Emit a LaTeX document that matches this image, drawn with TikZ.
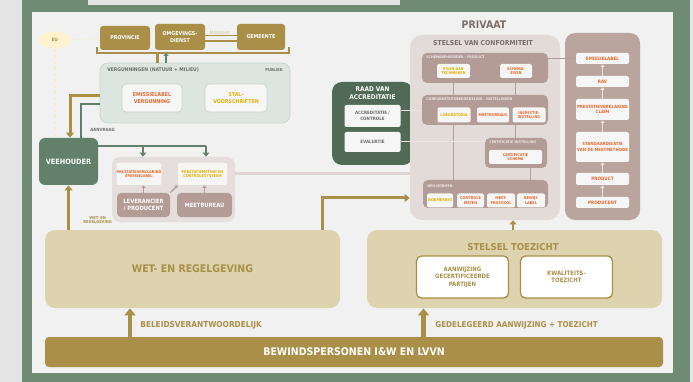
\documentclass[tikz,border=0pt]{standalone}
\usepackage{fontspec}
\setmainfont{DejaVu Sans Condensed}
\usetikzlibrary{arrows.meta}
\usetikzlibrary{shapes.geometric}
\definecolor{pagegray}{RGB}{228,228,228}
\definecolor{framegreen}{RGB}{110,139,116}
\definecolor{panelgray}{RGB}{241,241,241}
\definecolor{paper}{RGB}{246,246,246}
\definecolor{gold}{RGB}{169,143,72}
\definecolor{beige}{RGB}{221,211,174}
\definecolor{eucream}{RGB}{255,243,207}
\definecolor{vergfill}{RGB}{220,229,223}
\definecolor{vergline}{RGB}{200,213,204}
\definecolor{vgreen}{RGB}{98,128,106}
\definecolor{dgreen}{RGB}{80,106,86}
\definecolor{lmauve}{RGB}{230,222,220}
\definecolor{cmauve}{RGB}{227,219,216}
\definecolor{mauve}{RGB}{179,156,150}
\definecolor{rmauve}{RGB}{185,164,158}
\definecolor{orangetxt}{RGB}{229,103,46}
\definecolor{yellowtxt}{RGB}{226,178,10}
\definecolor{greytxt}{RGB}{110,110,110}
\definecolor{browntxt}{RGB}{125,110,106}
\definecolor{paleline}{RGB}{236,229,227}
\tikzset{every picture/.style={line width=0.75pt}}
\tikzset{
  tinyt/.style={font=\bfseries\fontsize{3}{3.6}\selectfont},
  smallt/.style={font=\bfseries\fontsize{3.8}{4.6}\selectfont},
  box/.style={rectangle, inner sep=0pt, align=center, smallt},
  goldbox/.style={box, fill=gold, text=white, rounded corners=3pt, font=\bfseries\fontsize{5.3}{6.3}\selectfont},
  panel/.style={rectangle, inner sep=0pt, rounded corners=#1},
  panel/.default=8pt,
  wbox/.style={box, fill=paper, rounded corners=2pt},
  gwbox/.style={box, fill=paper, draw=vergline, rounded corners=4pt, font=\bfseries\fontsize{5.3}{6.5}\selectfont},
  mbox/.style={box, fill=mauve, text=white, rounded corners=4pt, font=\bfseries\fontsize{5.8}{7}\selectfont},
  hdr/.style={inner sep=0pt, anchor=west, text=paleline, font=\bfseries\fontsize{3.6}{4}\selectfont},
  lbl/.style={inner sep=0pt, align=center},
  goldline/.style={draw=gold, line width=3pt},
  goldarrow/.style={goldline, -{Triangle[width=8pt,length=5pt]}},
  greenline/.style={draw=vgreen, line width=2.5pt},
  greenarrow/.style={greenline, -{Triangle[width=6.5pt,length=4pt]}},
  mline/.style={draw=mauve, line width=1pt},
  pline/.style={draw=paleline, line width=1pt},
  marrow/.style={draw=mauve, line width=1.2pt, -{Triangle[width=4pt,length=2.5pt]}},
  rarrow/.style={draw=paleline, line width=1.2pt, -{Triangle[width=4pt,length=2.5pt]}},
  uparrow/.style={draw=gold, line width=4.5pt, -{Triangle[width=11pt,length=7pt]}}
}
\begin{document}
\begin{tikzpicture}[x=1pt,y=1pt,yscale=-1]
%Shape: Background and frame
\fill[pagegray] (0,0) rectangle (693,382);
\fill[framegreen] (22,0) rectangle (690,382);
\fill[pagegray] (88,0) rectangle (400,5);
\fill[panelgray] (32,12) rectangle (673,373);
\useasboundingbox (0,0) rectangle (693,382);

%Shape: Ellipse
\node[ellipse, fill=eucream, minimum width=32, minimum height=17, inner sep=0pt, text=gold, font=\bfseries\fontsize{4.5}{5}\selectfont] (eu) at (55,40) {EU};

%Shape: Gold boxes (public bodies)
\node[goldbox, minimum width=50, minimum height=24] (prov) at (125,38) {PROVINCIE};
\node[goldbox, minimum width=50, minimum height=26] (odienst) at (180,37) {OMGEVINGS-\\DIENST};
\node[goldbox, minimum width=48, minimum height=26] (gem) at (261,37) {GEMEENTE};
% Text Node
\node[lbl, text=beige, font=\bfseries\fontsize{4}{4.5}\selectfont] (mandaat) at (220,33) {MANDAAT};
%Straight Lines
\draw[gold, line width=1.6pt] ([yshift=-1.5pt]odienst.east) -- ([yshift=-1.5pt]gem.west);
\draw[gold, line width=1.6pt] ([yshift=4pt]odienst.east) -- ([yshift=4pt]gem.west);
%Dashed Lines
\draw[eucream!80!gold!60, line width=1.2pt, dashed] (eu.east) -- (prov.west);

%Shape: Bracket
\coordinate (bl) at (97,47);
\coordinate (br) at (289,47);
\coordinate (bmid) at (193,53);
\draw[gold, line width=1.3pt] (bl) |- (bmid) -| (br);

%Shape: Vergunningen
\node[panel, fill=vergfill, draw=vergline, minimum width=190, minimum height=60] (verg) at (195,93) {};
\node[inner sep=0pt, anchor=west, text=greytxt, font=\bfseries\fontsize{5}{5.5}\selectfont] (vergtitle) at (107,70) {VERGUNNINGEN (NATUUR + MILIEU)};
\node[inner sep=0pt, anchor=east, text=greytxt, font=\bfseries\fontsize{4}{5}\selectfont] (publiek) at (283,70) {PUBLIEK};
\node[gwbox, text=orangetxt, minimum width=60, minimum height=28] (elabel) at (152,98) {EMISSIELABEL\\VERGUNNING};
\node[gwbox, text=yellowtxt, minimum width=62, minimum height=28] (stal) at (236,98) {STAL-\\VOORSCHRIFTEN};

\coordinate (vg) at (157,53);
\coordinate (vgr) at (166,53);
\draw[goldline] (vg) -- (vg |- verg.north);
\draw[draw=vgreen, line width=2pt, -{Triangle[width=5pt,length=3pt]}] (vgr |- verg.north) -- (vgr);

%Shape: Veehouder
\node[panel=6pt, fill=vgreen, text=white, minimum width=59, minimum height=47, font=\bfseries\fontsize{7.3}{8.5}\selectfont] (veeh) at (68.5,161.5) {VEEHOUDER};
\draw[eucream!80!gold!60, line width=1.2pt, dashed] (eu.south) -- (eu.south |- veeh.north);

\coordinate (gv) at (70,96);
\draw[goldarrow] (gv -| verg.west) -- (gv) -- (gv |- veeh.north);
\coordinate (gg) at (81,104);
\draw[greenline] (gg |- veeh.north) -- (gg) -- (gg -| verg.west);
% Text Node
\node[inner sep=0pt, anchor=west, text=greytxt, font=\bfseries\fontsize{4.3}{5}\selectfont] (aanvraag) at (90,130) {AANVRAAG};

%Shape: Markt
\node[panel, fill=lmauve, minimum width=123, minimum height=65] (markt) at (173.5,189.5) {};
\node[wbox, text=orangetxt, minimum width=42, minimum height=22] (topl) at (139,174) {PRESTATIEVERKLARING\\EMISSIELABEL};
\node[wbox, text=yellowtxt, minimum width=49, minimum height=22] (topr) at (202.5,174) {PRESTATIEMETING EN\\CONTROLESYSTEEM};
\node[mbox, minimum width=53, minimum height=24] (lev) at (143.5,205) {LEVERANCIER\\/ PRODUCENT};
\node[mbox, minimum width=55, minimum height=24] (meet) at (204.5,205) {MEETBUREAU};
\draw[marrow] (lev.north) -- (lev.north |- topl.south);
\draw[marrow] (meet.north) -- (meet.north |- topr.south);
\draw[marrow] (lev.north east) -- (topr.south west);

\coordinate (gb) at (206,146);
\coordinate (gb2) at (143,146);
\draw[greenline] (gb -| veeh.east) -- (gb);
\draw[greenarrow] (gb) -- (gb |- markt.north);
\draw[greenarrow] (gb2) -- (gb2 |- markt.north);

%Shape: Raad van accreditatie
\node[panel=10pt, fill=dgreen, minimum width=81, minimum height=83] (raad) at (372.5,123.5) {};
\node[lbl, text=white, font=\bfseries\fontsize{6.5}{7.8}\selectfont] (raadtitle) at (372.5,93) {RAAD VAN\\ACCREDITATIE};
\node[wbox, text=greytxt, minimum width=56, minimum height=22, font=\bfseries\fontsize{4.5}{5.5}\selectfont] (acc) at (372.5,116) {ACCREDITATIE /\\CONTROLE};
\node[wbox, text=greytxt, minimum width=56, minimum height=20, font=\bfseries\fontsize{4.5}{5.5}\selectfont] (eval) at (372.5,142) {EVALUATIE};

%Shape: Stelsel van conformiteit
\node[panel=12pt, fill=cmauve, minimum width=150, minimum height=185] (conf) at (485,127.5) {};
\node[lbl, text=browntxt, font=\bfseries\fontsize{10.5}{12}\selectfont] (privaat) at (484,25) {PRIVAAT};
\node[lbl, text=browntxt, font=\bfseries\fontsize{6.8}{8}\selectfont] (conftitle) at (483,43) {STELSEL VAN CONFORMITEIT};

\node[panel=5pt, fill=mauve, minimum width=126, minimum height=30] (sch) at (485,68) {};
\node[hdr] (schtitle) at (426,57.5) {SCHEMABEHEERDER - PRODUCT};
\node[wbox, text=yellowtxt, minimum width=33, minimum height=14] (sch1) at (453.5,71) {EISEN AAN\\TECHNIEKEN};
\node[wbox, text=orangetxt, minimum width=32, minimum height=14] (sch2) at (516,71) {SCHEMA-\\EISEN};

\node[panel=5pt, fill=mauve, minimum width=126, minimum height=30] (cb) at (485,110) {};
\node[hdr] (cbtitle) at (426,99.5) {CONFORMITEITSBEOORDELING - INSTELLINGEN};
\node[wbox, text=yellowtxt, minimum width=33, minimum height=15] (cb1) at (454,115) {LABORATORIA};
\node[wbox, text=orangetxt, minimum width=32, minimum height=15] (cb2) at (493,115) {MEETBUREAUS};
\node[wbox, text=orangetxt, minimum width=33, minimum height=15] (cb3) at (529,115) {INSPECTIE-\\INSTELLING};

\node[panel=5pt, fill=mauve, minimum width=62, minimum height=30] (cert) at (516,153) {};
\node[hdr] (certtitle) at (489,142.5) {CERTIFICATIE-INSTELLING};
\node[wbox, text=orangetxt, minimum width=53, minimum height=14] (cert1) at (515.5,157) {CERTIFICATIE\\SCHEMA};

\node[panel=5pt, fill=mauve, minimum width=125, minimum height=28] (nen) at (485.5,194) {};
\node[hdr] (nentitle) at (427,186) {NEN-NORMEN};
\node[wbox, text=yellowtxt, minimum width=26, minimum height=14] (nen1) at (440,200.5) {NORMERING};
\node[wbox, text=orangetxt, minimum width=27, minimum height=14] (nen2) at (470.5,200.5) {CONTROLE\\METEN};
\node[wbox, text=orangetxt, minimum width=28, minimum height=14] (nen3) at (501,200.5) {MEET-\\PROTOCOL};
\node[wbox, text=orangetxt, minimum width=28, minimum height=14] (nen4) at (531,200.5) {BEWIJS\\LABEL};

%Straight Lines
\coordinate (lx1) at (453,90);
\coordinate (lx2) at (515,90);
\coordinate (lx3) at (530,175);
\draw[mline] (lx1 |- sch.south) -- (lx1 |- cb.north);
\draw[mline] (lx2 |- sch.south) -- (lx2 |- cb.north);
\draw[mline] (lx1 |- cb.south) -- (lx1 |- nen.north);
\draw[mline] (lx2 |- cb.south) -- (lx2 |- cert.north);
\draw[mline] (lx3 |- cert.south) -- (lx3 |- nen.north);

\coordinate (al) at (400,111);
\draw[pline] (al -| acc.east) -- (al -| cb.west);
\draw[pline] (eval.east) -- (eval.east -| cert.west);

%Shape: Productketen
\node[panel=10pt, fill=rmauve, minimum width=75, minimum height=187] (rc) at (602.5,126.5) {};
\node[wbox, text=orangetxt, minimum width=53, minimum height=11, font=\bfseries\fontsize{4.6}{5.5}\selectfont] (r1) at (602.5,58.5) {EMISSIELABEL};
\node[wbox, text=orangetxt, minimum width=53, minimum height=11, font=\bfseries\fontsize{4.6}{5.5}\selectfont] (r2) at (602.5,81.5) {RAV};
\node[wbox, text=orangetxt, minimum width=53, minimum height=21, font=\bfseries\fontsize{4.3}{5.5}\selectfont] (r3) at (602.5,109.5) {PRESTATIEVERKLARING\\CLAIM};
\node[wbox, text=orangetxt, minimum width=53, minimum height=30, font=\bfseries\fontsize{4.3}{5.5}\selectfont] (r4) at (602.5,147) {STANDAARDISATIE\\VAN DE MEETMETHODE};
\node[wbox, text=orangetxt, minimum width=53, minimum height=12, font=\bfseries\fontsize{4.6}{5.5}\selectfont] (r5) at (602.5,179) {PRODUCT};
\node[wbox, text=orangetxt, minimum width=53, minimum height=11, font=\bfseries\fontsize{4.6}{5.5}\selectfont] (r6) at (602.5,202.5) {PRODUCENT};
\draw[rarrow] (r6.north) -- (r5.south);
\draw[rarrow] (r5.north) -- (r4.south);
\draw[rarrow] (r4.north) -- (r3.south);
\draw[rarrow] (r3.north) -- (r2.south);
\draw[rarrow] (r2.north) -- (r1.south);
\draw[mline] (r1.west -| sch.east) -- (r1.west);

%Shape: Wet- en regelgeving / Stelsel toezicht
\node[panel=10pt, fill=beige, minimum width=295, minimum height=78, text=gold, font=\bfseries\fontsize{10.5}{12}\selectfont] (wet) at (192.5,269) {WET- EN REGELGEVING};
\node[panel=10pt, fill=beige, minimum width=295, minimum height=78] (toez) at (514.5,269) {};
\node[lbl, text=gold, font=\bfseries\fontsize{9.5}{11}\selectfont] (toeztitle) at (513,247.5) {STELSEL TOEZICHT};
\node[box, fill=white, draw=gold, line width=1.3pt, rounded corners=5pt, text=gold, minimum width=92, minimum height=42, font=\bfseries\fontsize{6}{7.5}\selectfont] (aanw) at (462.5,277) {AANWIJZING\\GECERTIFICEERDE\\PARTIJEN};
\node[box, fill=white, draw=gold, line width=1.3pt, rounded corners=5pt, text=gold, minimum width=92, minimum height=42, font=\bfseries\fontsize{6}{7.5}\selectfont] (kwal) at (566.5,277) {KWALITEITS-\\TOEZICHT};

%Shape: Mauve link markt - stelsel
\coordinate (mk) at (236,174);
\draw[draw=lmauve!85!mauve, line width=3pt] (mk -| markt.east) -- (mk -| conf.west);

%Shape: Gold arrows
\coordinate (wc) at (322,198);
\coordinate (tz) at (513,225);
\draw[goldarrow] (wc |- wet.north) -- (wc) -- (wc -| conf.west);
\draw[goldline, line width=2.5pt, -{Triangle[width=7pt,length=4pt]}] (tz |- toez.north) -- (tz |- conf.south);
\draw[goldarrow] (veeh.south |- wet.north) -- (veeh.south);
% Text Node
\node[lbl, text=gold, anchor=west, font=\bfseries\fontsize{4}{4.6}\selectfont] (wetlbl) at (83,220) {WET- EN\\REGELGEVING};

%Shape: Bewindspersonen
\node[panel=4pt, fill=gold, text=white, minimum width=618, minimum height=30, font=\bfseries\fontsize{10.5}{12}\selectfont] (bewind) at (354,352) {BEWINDSPERSONEN I\&W EN LVVN};
\coordinate (b1) at (130,320);
\coordinate (b2) at (423.5,320);
\draw[uparrow] (b1 |- bewind.north) -- (b1 |- wet.south);
\draw[uparrow] (b2 |- bewind.north) -- (b2 |- toez.south);
% Text Node
\node[lbl, text=gold, anchor=west, font=\bfseries\fontsize{8.2}{9.5}\selectfont] (beleid) at (140,325.5) {BELEIDSVERANTWOORDELIJK};
% Text Node
\node[lbl, text=gold, anchor=west, font=\bfseries\fontsize{8}{9.5}\selectfont] (gedel) at (435,325.5) {GEDELEGEERD AANWIJZING + TOEZICHT};

\end{tikzpicture}
\end{document}
